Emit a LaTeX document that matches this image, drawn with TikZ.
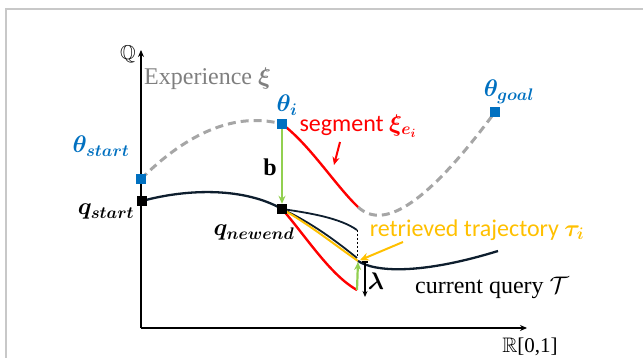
\RequirePackage{fix-cm}
\documentclass[tikz,border=0pt]{standalone}
\usepackage{amsmath,amssymb}
\usepackage{bm}
\usepackage{fontspec}
\setmainfont{Liberation Serif}
\setsansfont{Carlito}
\usetikzlibrary{arrows.meta}
\definecolor{qblue}{HTML}{0070C0}
\definecolor{qred}{HTML}{FF0000}
\definecolor{qgreen}{HTML}{92D050}
\definecolor{qorange}{HTML}{FFC000}
\definecolor{qnavy}{HTML}{0E1E2E}
\definecolor{qgray}{HTML}{A6A6A6}
\definecolor{qtextgray}{HTML}{7F7F7F}
\definecolor{qframe}{HTML}{C8C8C8}
\tikzset{
  lab/.style={inner sep=0pt, font=\fontsize{24}{28}\selectfont},
  bsq/.style={fill=qblue, minimum size=10pt, inner sep=0pt},
  ksq/.style={fill=black, minimum size=10pt, inner sep=0pt},
  axisline/.style={line width=1.5pt, -{Stealth[length=7pt,width=6pt]}},
  querycurve/.style={qnavy, line width=2.3pt},
  branch/.style={qnavy, line width=1.8pt},
  redcurve/.style={qred, line width=2.4pt},
  orangecurve/.style={qorange, line width=2pt},
  dashgray/.style={qgray, line width=3pt, dash pattern=on 8pt off 5pt},
  greenarrow/.style={qgreen, line width=2.2pt, -{Stealth[length=8pt,width=7pt]}},
}
\begin{document}
\begin{tikzpicture}[x=1pt,y=-1pt]
\useasboundingbox (0,0) rectangle (643,358);
% frame
\coordinate (frtr) at (643,9);
\coordinate (frtl) at (6,9);
\coordinate (frbl) at (6,358);
\draw[qframe, line width=1.5pt] (frtr) -- (frtl) -- (frbl);
% axes
\coordinate (origin) at (141,328);
\coordinate (yaxtop) at (141,50);
\coordinate (xaxend) at (527,328);
\draw[axisline] (origin) -- (yaxtop);
\draw[axisline] (origin) -- (xaxend);
\node[lab, anchor=east, font=\fontsize{20}{24}\selectfont] (Qlab) at (136,54) {$\mathbb{Q}$};
\node[lab, font=\fontsize{21}{24}\selectfont] (Rlab) at (530,347) {$\mathbb{R}$[0,1]};
% key points
\coordinate (thstart) at (141,179);
\coordinate (thi) at (282,124);
\coordinate (thgoal) at (495,112);
\coordinate (qstart) at (142,201);
\coordinate (qnewend) at (282,209);
\coordinate (segend) at (358,207);
\coordinate (dtop) at (357,230);
\coordinate (dbot) at (357,257);
\coordinate (midend) at (357,258);
\coordinate (inter) at (358,261);
\coordinate (redlow) at (357,290);
\coordinate (qend) at (498,251);
% experience (dashed)
\draw[dashgray] (thstart) .. controls (180,140) and (230,110) .. (thi);
\draw[dashgray] (segend) .. controls (385,232) and (430,200) .. (thgoal);
% segment
\draw[redcurve] (thi) .. controls (310,145) and (335,185) .. (segend);
% branches from q_newend
\draw[redcurve] (qnewend) .. controls (305,235) and (330,275) .. (redlow);
\draw[branch] (qnewend) .. controls (310,213) and (340,218) .. (dtop);
\draw[branch] (qnewend) .. controls (310,222) and (335,240) .. (midend);
\draw[orangecurve] (qnewend) .. controls (310,225) and (335,245) .. (inter);
\draw[black, line width=1pt, dash pattern=on 2.5pt off 1.5pt] (dtop) -- (dbot);
% current query
\draw[querycurve] (qstart) .. controls (190,188) and (245,188) .. (qnewend);
\draw[querycurve] (inter) .. controls (375,272) and (420,275) .. (qend);
% squares
\node[bsq] (thstartsq) at (thstart) {};
\node[bsq] (thisq) at (thi) {};
\node[bsq] (thgoalsq) at (thgoal) {};
\node[ksq] (qstartsq) at (qstart) {};
\node[ksq] (qnewendsq) at (qnewend) {};
% green arrows
\draw[greenarrow] (thisq.south) -- (qnewendsq.north);
\draw[greenarrow, shorten >=1pt] (redlow) -- (inter);
% lambda arrow
\coordinate (lamtop) at (365,262);
\coordinate (lambot) at (365,297);
\draw[black, line width=1.2pt, -{Stealth[length=6pt,width=5pt]}] (lamtop) -- (lambot);
\draw[black, line width=1.2pt] (362,262) -- (368,262);
% pointer arrows
\coordinate (oarr) at (403,242);
\draw[qorange, line width=2pt, shorten >=2pt, -{Stealth[length=9pt,width=8pt]}] (oarr) -- (inter);
\coordinate (rarrs) at (340,142);
\coordinate (rarre) at (334,165);
\draw[qred, line width=2pt, -{Stealth[length=8pt,width=7pt]}] (rarrs) -- (rarre);
% labels
\node[lab, text=qtextgray, anchor=west] (explab) at (144,79) {Experience $\bm{\xi}$};
\node[lab, text=qblue] (thstartlab) at (101,146) {$\bm{\theta}_{\bm{start}}$};
\node[lab, text=qblue] (thilab) at (287,105) {$\bm{\theta}_{\bm{i}}$};
\node[lab, text=qblue] (thgoallab) at (509,92) {$\bm{\theta}_{\bm{goal}}$};
\node[lab] (blab) at (270,167) {$\mathbf{b}$};
\node[lab] (qstartlab) at (106,212) {$\bm{q}_{\bm{start}}$};
\node[lab] (qnewendlab) at (254,233) {$\bm{q}_{\bm{newend}}$};
\node[lab, text=qred, font=\fontsize{24}{28}\sffamily] (seglab) at (358,126) {segment $\bm{\xi}_{\bm{e_i}}$};
\node[lab, text=qorange, font=\fontsize{24}{28}\sffamily] (retlab) at (477,230) {retrieved trajectory $\bm{\tau}_{\bm{i}}$};
\node[lab] (curlab) at (492,288) {current query $\mathcal{T}$};
\node[lab] (lamlab) at (376,281) {$\bm{\lambda}$};
\end{tikzpicture}
\end{document}
